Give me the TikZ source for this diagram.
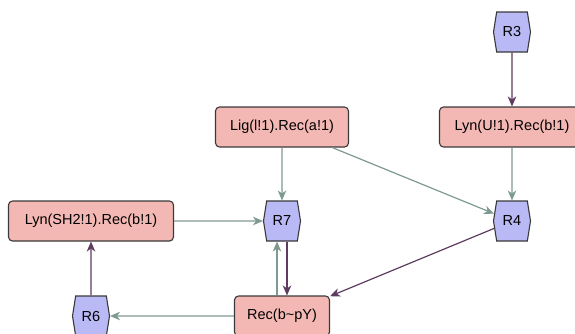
\documentclass[tikz,border=0pt]{standalone}
\usepackage{fontspec}
\setmainfont{Liberation Sans}
\usetikzlibrary{arrows.meta,shapes.symbols}
\definecolor{boxfill}{HTML}{F4B8B4}
\definecolor{hexfill}{HTML}{B9B9F5}
\definecolor{outline}{HTML}{3A3A3A}
\definecolor{greenedge}{HTML}{7E9A8F}
\definecolor{purpleedge}{HTML}{5E3C60}
\tikzset{
  species/.style={draw=outline, fill=boxfill, line width=1.1pt, rounded corners=4pt,
    minimum height=40pt, inner xsep=0pt, font=\fontsize{14.5}{16}\selectfont},
  rule/.style={draw=outline, fill=hexfill, line width=1.1pt, signal, signal to=west and east,
    signal pointer angle=162, minimum width=37pt, minimum height=40pt, inner sep=0pt,
    font=\fontsize{14.5}{16}\selectfont},
  tip/.style={-{Stealth[length=10pt,width=8.5pt,inset=3pt]}},
  gedge/.style={tip, draw=greenedge, line width=1.2pt},
  pedge/.style={tip, draw=purpleedge, line width=1.2pt},
}
\begin{document}
\begin{tikzpicture}[x=1pt,y=-1pt]
\useasboundingbox (0,0) rectangle (575,333);
% species boxes
\node[species, minimum width=133pt] (Lig) at (282,127) {Lig(l!1).Rec(a!1)};
\node[species, minimum width=145pt] (LynU) at (512,127) {Lyn(U!1).Rec(b!1)};
\node[species, minimum width=165pt] (LynSH) at (91,221) {Lyn(SH2!1).Rec(b!1)};
\node[species, minimum width=95pt] (Rec) at (282,316) {Rec(b\char`~pY)};
% rule hexagons
\node[rule] (R3) at (512,32) {R3};
\node[rule] (R4) at (512,221) {R4};
\node[rule] (R7) at (282,221) {R7};
\node[rule] (R6) at (91,316) {R6};
% connectors
\draw[pedge] (R3) -- (LynU);
\draw[gedge] (LynU) -- (R4);
\draw[gedge] (Lig) -- (R7);
\draw[gedge] (Lig) -- (R4);
\draw[pedge] (R4) -- (Rec);
\draw[gedge] (LynSH) -- (R7);
\draw[pedge] ([xshift=5pt]R7.south) -- ([xshift=5pt]Rec.north);
\draw[gedge] ([xshift=-5pt]Rec.north) -- ([xshift=-5pt]R7.south);
\draw[gedge] (Rec) -- (R6);
\draw[pedge] (R6) -- (LynSH);
\end{tikzpicture}
\end{document}
